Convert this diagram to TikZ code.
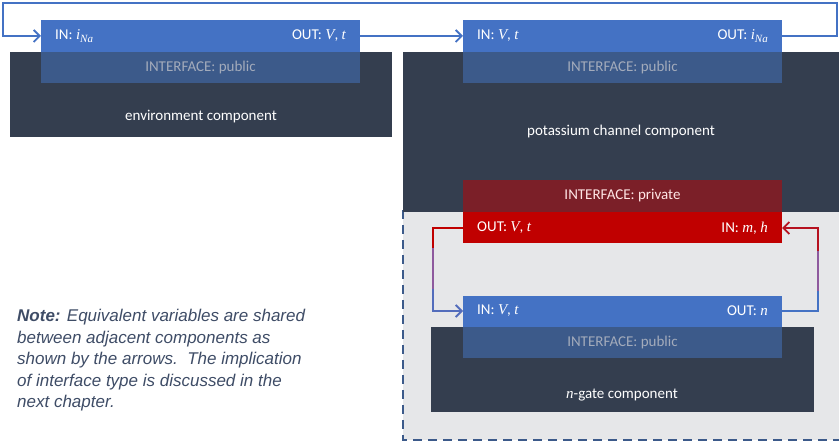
\documentclass[tikz,border=0pt]{standalone}
\usepackage{fontspec}
\setmainfont{Carlito}
\newfontfamily\notefont{Liberation Sans}
\newfontfamily\varfont{Liberation Serif}
\usetikzlibrary{arrows.meta}
\definecolor{dark}{HTML}{343E4F}
\definecolor{barblue}{HTML}{4472C4}
\definecolor{pubband}{HTML}{3C5A8A}
\definecolor{pubtext}{HTML}{A3ABBB}
\definecolor{privband}{HTML}{7B1F28}
\definecolor{barred}{HTML}{C00000}
\definecolor{graybg}{HTML}{E6E7E9}
\definecolor{notecol}{HTML}{3E4C66}
\definecolor{midcol}{HTML}{8E5A9E}
\newcommand{\mv}[1]{{\varfont\itshape #1}}
\tikzset{
  darkbox/.style={fill=dark,draw=none,inner sep=0},
  lbl/.style={text=white,font=\fontsize{15}{18}\selectfont,inner sep=0},
  band/.style={text=pubtext,font=\fontsize{15}{18}\selectfont,inner sep=0},
  conn/.style={line width=1.8pt,-{Straight Barb[length=6pt,width=12pt,line width=1.8pt]}},
  plain/.style={line width=1.8pt},
}
\begin{document}
\begin{tikzpicture}[x=1pt,y=-1pt]
\useasboundingbox (0,0) rectangle (839,443);
% gray region
\fill[graybg] (403,210) rectangle (839,440);
\draw[pubband,line width=1.3pt,dash pattern=on 9pt off 6pt] (403,210) -- (403,440) -- (839,440);
% environment
\fill[dark] (10,52) rectangle (392,137);
\fill[barblue] (41,20) rectangle (360,52);
\fill[pubband] (41,52) rectangle (360,83);
\node[band] (envif) at (200.5,68) {INTERFACE: public};
\node[lbl,anchor=west] (envin) at (55,36) {IN: \mv{i}\raisebox{-3pt}{\fontsize{11}{12}\selectfont\mv{Na}}};
\node[lbl,anchor=east] (envout) at (346,36) {OUT: \mv{V}, \mv{t}};
\node[lbl] (envname) at (201,117) {environment component};
\coordinate (envL) at (41,36);
\coordinate (envR) at (360,36);
% potassium
\fill[dark] (403,52) rectangle (839,212);
\fill[barblue] (463,20) rectangle (782,52);
\fill[pubband] (463,52) rectangle (782,83);
\node[band] (kif) at (622.5,68) {INTERFACE: public};
\node[lbl,anchor=west] (kin) at (477,36) {IN: \mv{V}, \mv{t}};
\node[lbl,anchor=east] (kout) at (768,36) {OUT: \mv{i}\raisebox{-3pt}{\fontsize{11}{12}\selectfont\mv{Na}}};
\node[lbl] (kname) at (621,132) {potassium channel component};
\coordinate (kL) at (463,36);
\coordinate (kR) at (782,36);
% private
\fill[privband] (463,180) rectangle (782,212);
\fill[barred] (463,212) rectangle (782,243);
\node[lbl,text=white!90!red] (privif) at (622.5,196) {INTERFACE: private};
\node[lbl,anchor=west] (pout) at (477,228) {OUT: \mv{V}, \mv{t}};
\node[lbl,anchor=east] (pin) at (768,228) {IN: \mv{m}, \mv{h}};
\coordinate (pL) at (463,228);
\coordinate (pR) at (782,228);
% n-gate
\fill[dark] (431,327) rectangle (814,412);
\fill[barblue] (463,296) rectangle (782,327);
\fill[pubband] (463,327) rectangle (782,358);
\node[band] (nif) at (622.5,343) {INTERFACE: public};
\node[lbl,anchor=west] (nin) at (477,311) {IN: \mv{V}, \mv{t}};
\node[lbl,anchor=east] (nout) at (768,311) {OUT: \mv{n}};
\node[lbl] (nname) at (622,395) {\mv{n}-gate component};
\coordinate (nL) at (463,311);
\coordinate (nR) at (782,311);
% connectors
\draw[conn,barblue] (envR) -- (kL);
\draw[conn,barblue] (kR) -- (837,36) -- (837,3) -- (3,3) -- (3,36) -- (envL);
\draw[plain,barred] (pL) -- (433,228) -- (433,268);
\draw[plain,midcol] (433,248) -- (433,290);
\draw[conn,barblue!80!midcol] (433,289) -- (433,311) -- (nL);
\draw[plain,barblue] (nR) -- (818,311) -- (818,290);
\draw[plain,midcol] (818,291) -- (818,250);
\draw[conn,barred!80!midcol] (818,251) -- (818,228) -- (pR);
% note
\node[anchor=north west,align=left,text=notecol,inner sep=0,
  font=\notefont\itshape\fontsize{17}{21.5}\selectfont] (note) at (17,309)
  {\textbf{Note:} Equivalent variables are shared\\between adjacent components as\\shown by the arrows.\ \ The implication\\of interface type is discussed in the\\next chapter.};
\end{tikzpicture}
\end{document}
